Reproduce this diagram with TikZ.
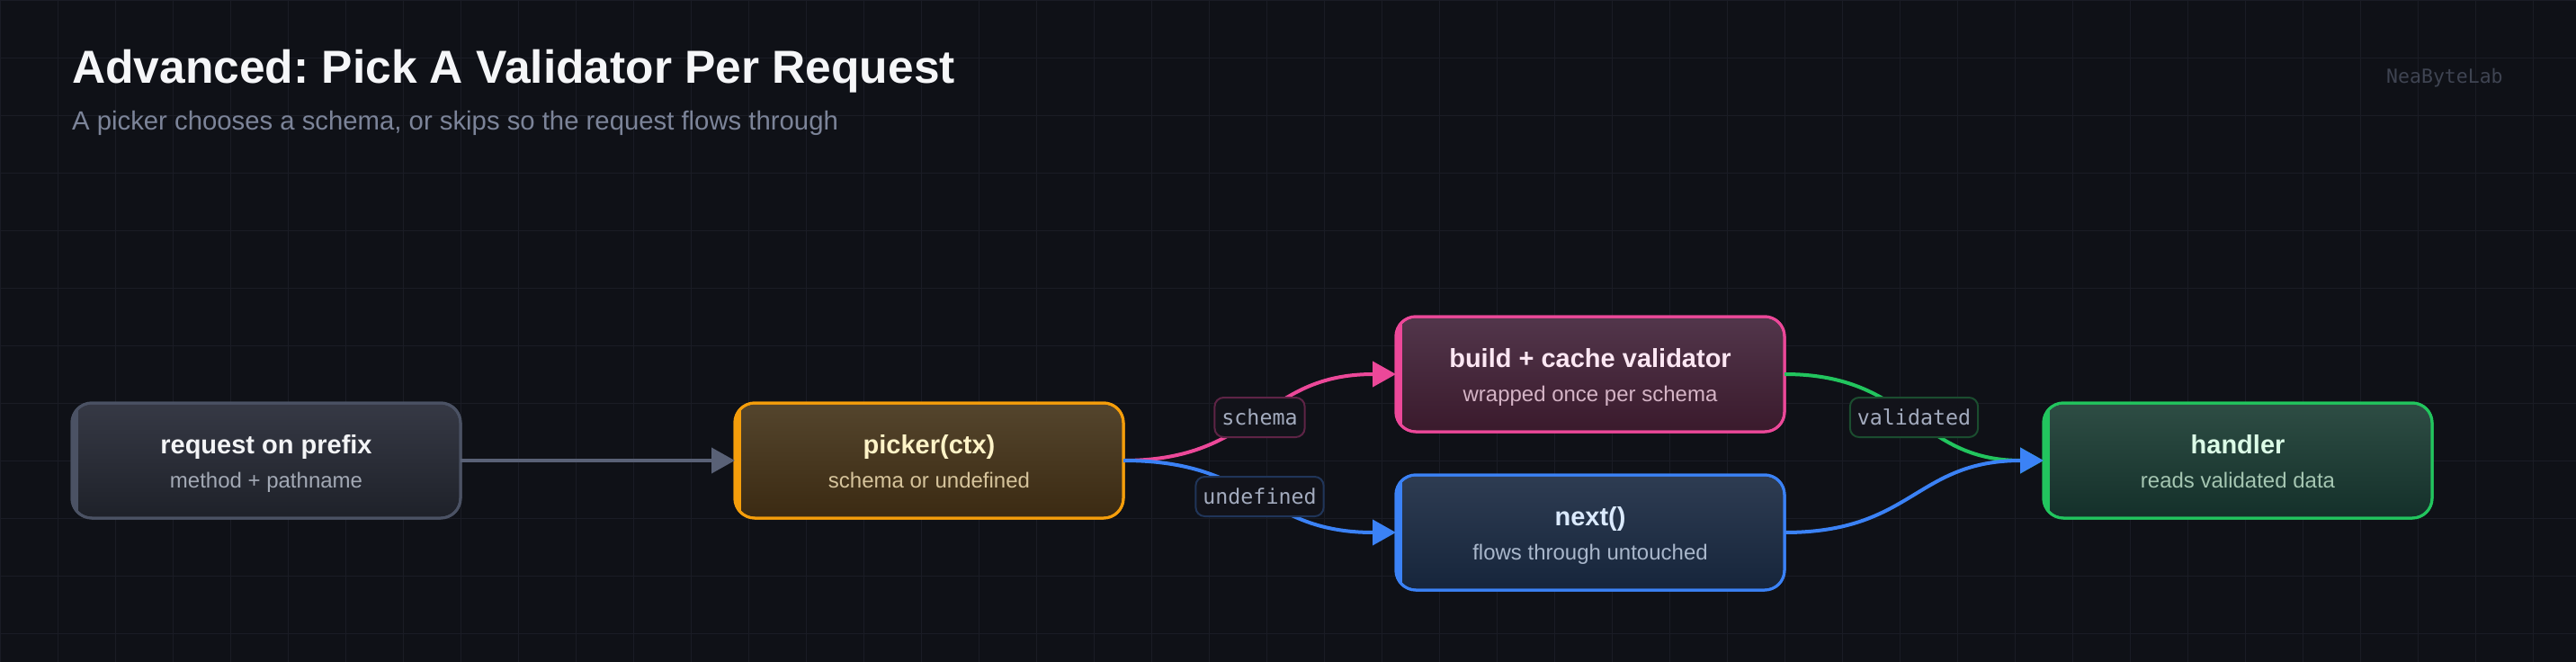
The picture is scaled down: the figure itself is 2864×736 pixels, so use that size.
\documentclass[tikz,border=0pt]{standalone}
\usepackage{fontspec}
\setmainfont{Liberation Sans}
\setmonofont{DejaVu Sans Mono}
\usetikzlibrary{arrows.meta,calc}
\frenchspacing

\definecolor{bg}{HTML}{0F1117}
\definecolor{gridc}{HTML}{1A1C25}
\definecolor{titlec}{HTML}{F5F6F8}
\definecolor{subc}{HTML}{7C8499}
\definecolor{wmc}{HTML}{3F4452}
\definecolor{reqB}{HTML}{4B5264}\definecolor{reqT}{HTML}{363945}\definecolor{reqD}{HTML}{1E2129}\definecolor{reqH}{HTML}{F3F4F6}\definecolor{reqS}{HTML}{A3A9B5}
\definecolor{pkB}{HTML}{F59E0B}\definecolor{pkT}{HTML}{54452D}\definecolor{pkD}{HTML}{3B2A12}\definecolor{pkH}{HTML}{FEF3C7}\definecolor{pkS}{HTML}{D6C49C}
\definecolor{bdB}{HTML}{EC4899}\definecolor{bdT}{HTML}{52364B}\definecolor{bdD}{HTML}{3A1A2C}\definecolor{bdH}{HTML}{FCE7F3}\definecolor{bdS}{HTML}{D5B4C6}
\definecolor{nxB}{HTML}{3B82F6}\definecolor{nxT}{HTML}{2E3C52}\definecolor{nxD}{HTML}{16253B}\definecolor{nxH}{HTML}{DBEAFE}\definecolor{nxS}{HTML}{A9B7CB}
\definecolor{hdB}{HTML}{22C55E}\definecolor{hdT}{HTML}{2E4D44}\definecolor{hdD}{HTML}{14302A}\definecolor{hdH}{HTML}{DCFCE7}\definecolor{hdS}{HTML}{A5C6B2}
\definecolor{edgeg}{HTML}{596176}
\definecolor{labfill}{HTML}{12131A}
\definecolor{labtext}{HTML}{A3ABBE}
\definecolor{labpk}{HTML}{5E2446}
\definecolor{labbl}{HTML}{203559}
\definecolor{labgr}{HTML}{1B4D2F}

\newcommand{\flowbox}[8]{% name, x, y, border, top, bottom, title node, sub node
  \node[stagebox, draw=#4, top color=#5, bottom color=#6] (#1) at (#2,#3) {};
  \begin{scope}
    \clip[rounded corners=22pt] (#1.south west) rectangle (#1.north east);
    \fill[#4] (#1.south west) rectangle ($(#1.north west)+(7,0)$);
  \end{scope}
  \draw[#4, line width=3pt, rounded corners=22pt] (#1.south west) rectangle (#1.north east);
  #7
  #8
}

\begin{document}
\begin{tikzpicture}[x=1pt,y=-1pt,
  stagebox/.style={line width=3pt, rounded corners=22pt, minimum width=432pt,
    minimum height=128pt, inner sep=0pt, outer sep=0pt},
  ttl/.style={anchor=base, inner sep=0pt, font=\bfseries\fontsize{29}{34}\selectfont},
  stl/.style={anchor=base, inner sep=0pt, font=\fontsize{24}{28}\selectfont},
  flow/.style={line width=4pt, -{Triangle[length=26pt,width=28pt]}},
  lab/.style={fill=labfill, line width=2pt, rounded corners=10pt, inner xsep=8pt,
    inner ysep=0pt, minimum height=44pt, text=labtext,
    font=\ttfamily\fontsize{23.3}{28}\selectfont}]

\useasboundingbox (0,0) rectangle (2864,736);
\fill[bg] (0,0) rectangle (2864,736);
\foreach \gx in {0,64,...,2880} \draw[gridc, line width=1pt] (\gx,0) -- (\gx,736);
\foreach \gy in {0,64,...,736} \draw[gridc, line width=1pt] (0,\gy) -- (2864,\gy);

\node[anchor=base west, inner sep=0pt, text=titlec, font=\bfseries\fontsize{51.5}{60}\selectfont] (title) at (80,92) {Advanced: Pick A Validator Per Request};
\node[anchor=base west, inner sep=0pt, text=subc, font=\fontsize{29.3}{34}\selectfont] (subtitle) at (80,144) {A picker chooses a schema, or skips so the request flows through};
\node[anchor=base west, inner sep=0pt, text=wmc, font=\ttfamily\fontsize{21.5}{26}\selectfont] (wm) at (2653,92) {NeaByteLab};

\flowbox{req}{296}{512}{reqB}{reqT}{reqD}
  {\node[ttl, text=reqH] (reqt) at ($(req.center)+(0,-8)$) {request on prefix};}
  {\node[stl, text=reqS] (reqs) at ($(req.center)+(0,30)$) {method + pathname};}
\flowbox{pick}{1033}{512}{pkB}{pkT}{pkD}
  {\node[ttl, text=pkH] (pickt) at ($(pick.center)+(0,-8)$) {picker(ctx)};}
  {\node[stl, text=pkS] (picks) at ($(pick.center)+(0,30)$) {schema or undefined};}
\flowbox{build}{1768}{416}{bdB}{bdT}{bdD}
  {\node[ttl, text=bdH] (buildt) at ($(build.center)+(0,-8)$) {build + cache validator};}
  {\node[stl, text=bdS] (builds) at ($(build.center)+(0,30)$) {wrapped once per schema};}
\flowbox{next}{1768}{592}{nxB}{nxT}{nxD}
  {\node[ttl, text=nxH] (nextt) at ($(next.center)+(0,-8)$) {next()};}
  {\node[stl, text=nxS] (nexts) at ($(next.center)+(0,30)$) {flows through untouched};}
\flowbox{hand}{2488}{512}{hdB}{hdT}{hdD}
  {\node[ttl, text=hdH] (handt) at ($(hand.center)+(0,-8)$) {handler};}
  {\node[stl, text=hdS] (hands) at ($(hand.center)+(0,30)$) {reads validated data};}

\draw[flow, edgeg] (req.east) -- (pick.west);
\draw[flow, bdB] (pick.east) .. controls +(151,0) and +(-151,0) .. (build.west)
  node[lab, draw=labpk, pos=0.5] (labschema) {schema};
\draw[flow, nxB] (pick.east) .. controls +(151,0) and +(-151,0) .. (next.west)
  node[lab, draw=labbl, pos=0.5] (labundef) {undefined};
\draw[flow, hdB] (build.east) .. controls +(143,0) and +(-143,0) .. (hand.west)
  node[lab, draw=labgr, pos=0.5] (labvalid) {validated};
\draw[flow, nxB] (next.east) .. controls +(143,0) and +(-143,0) .. (hand.west);

\end{tikzpicture}
\end{document}
